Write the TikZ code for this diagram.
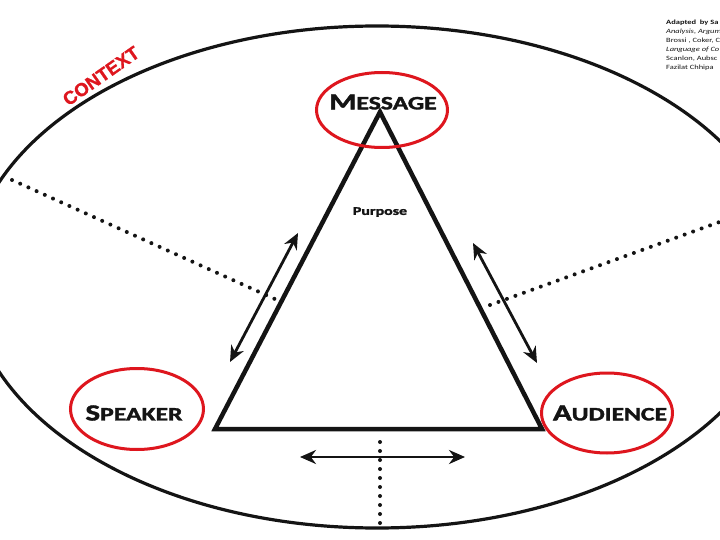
\documentclass[tikz,border=0pt]{standalone}
\usepackage{fontspec}
\setmainfont{Carlito}
\newfontfamily\capfont[UprightFont={* Bold}, FakeBold=1.6]{Carlito}
\newfontfamily\ctxfont[UprightFont={* Bold}, FakeBold=1.2]{Liberation Sans}
\usetikzlibrary{arrows.meta,shapes.geometric}
\definecolor{ringred}{RGB}{222,22,30}
\definecolor{ink}{RGB}{20,20,20}
\newcommand{\capword}[2]{\scalebox{1.35}[1]{\capfont\fontsize{23}{23}\selectfont #1\fontsize{19}{19}\selectfont #2}}
\begin{document}
\begin{tikzpicture}[x=1pt,y=-1pt,
  ring/.style={draw=ringred, line width=3pt, ellipse, inner sep=0pt},
  capbox/.style={inner sep=0pt, text=ink},
  dotline/.style={draw=ink, line width=4pt, line cap=round, dash pattern=on 0pt off 9pt},
  dblarrow/.style={draw=ink, line width=2.8pt, {Stealth[length=16pt,width=14pt]}-{Stealth[length=16pt,width=14pt]}},
  refline/.style={anchor=base west, inner sep=0pt, text=ink, font=\fontsize{6.5}{6.5}\selectfont}]
\useasboundingbox (0,0) rectangle (720,540);
\clip (0,0) rectangle (720,540);
\fill[white] (0,0) rectangle (720,540);

% context ellipse
\node[draw=ink, line width=3.2pt, ellipse, minimum width=816pt, minimum height=502pt, inner sep=0pt] (ctx) at (377,277) {};

% dotted lines
\coordinate (dl1) at (12,180);
\coordinate (dl2) at (277,300);
\coordinate (dr1) at (490,305);
\coordinate (dr2) at (772,203);
\coordinate (db1) at (380,442);
\coordinate (db2) at (380,527);
\draw[dotline] (dl1) -- (dl2);
\draw[dotline] (dr1) -- (dr2);
\draw[dotline] (db1) -- (db2);

% triangle
\coordinate (apex) at (380,112);
\coordinate (bl) at (215,429);
\coordinate (br) at (542,429);
\draw[ink, line width=4.5pt, line join=miter] (apex) -- (bl) -- (br) -- cycle;

% arrows
\coordinate (la1) at (230,362);
\coordinate (la2) at (298,233);
\coordinate (ra1) at (473,243);
\coordinate (ra2) at (537,363);
\coordinate (ba1) at (300,457);
\coordinate (ba2) at (465,457);
\draw[dblarrow] (la1) -- (la2);
\draw[dblarrow] (ra1) -- (ra2);
\draw[dblarrow] (ba1) -- (ba2);

% red rings
\node[ring, minimum width=131pt, minimum height=75pt] (msgring) at (382,110) {};
\node[ring, minimum width=133pt, minimum height=81pt] (spkring) at (137,409) {};
\node[ring, minimum width=131pt, minimum height=80pt] (audring) at (607,413) {};

% labels
\node[capbox] (msg) at (383,102) {\capword{M}{ESSAGE}};
\node[capbox] (spk) at (134,413) {\capword{S}{PEAKER}};
\node[capbox] (aud) at (610,413) {\capword{A}{UDIENCE}};
\node[capbox] (purpose) at (380,212) {\scalebox{1.35}[1]{\capfont\fontsize{11.8}{12}\selectfont Purpose}};
\node[inner sep=0pt, text=ringred, rotate=35] (context) at (101,76) {\ctxfont\fontsize{18.5}{18.5}\selectfont CONTEXT};

% reference text (cut at the right edge)
\node[refline] (r1) at (666,25) {\scalebox{1.3}[1]{\bfseries Adapted\ \ by Sa}};
\node[refline] (r2) at (666,34) {\scalebox{1.3}[1]{\itshape Analysis, Argum}};
\node[refline] (r3) at (666,43) {\scalebox{1.3}[1]{Brossi , Coker, C}};
\node[refline] (r4) at (666,52) {\scalebox{1.3}[1]{\itshape Language of Co}};
\node[refline] (r5) at (666,61) {\scalebox{1.3}[1]{Scanlon, Aubsc}};
\node[refline] (r6) at (666,70) {\scalebox{1.3}[1]{Fazilat Chhipa}};
\end{tikzpicture}
\end{document}
